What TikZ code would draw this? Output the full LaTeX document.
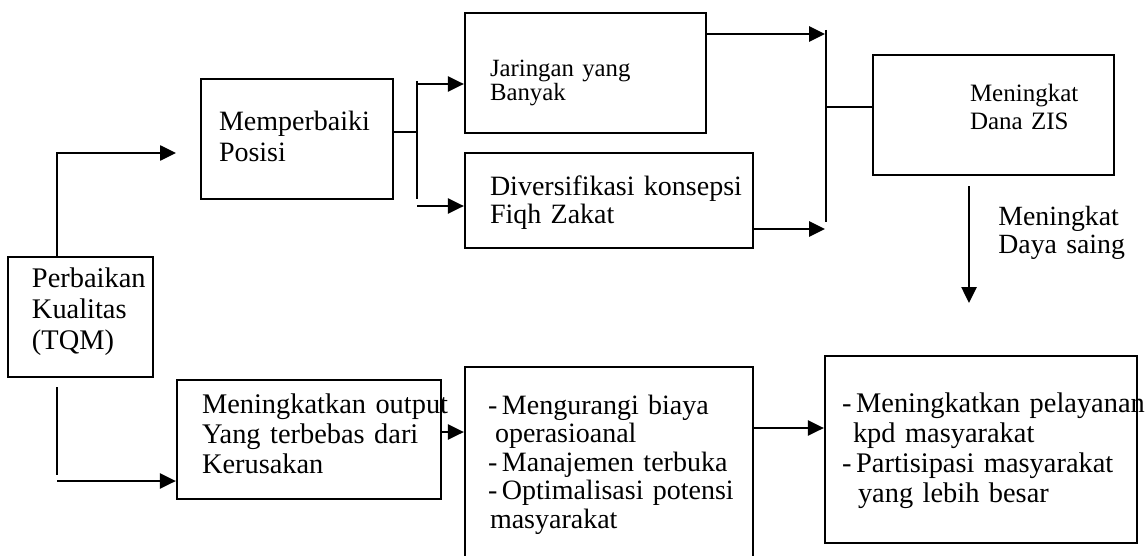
\documentclass[tikz,border=0pt]{standalone}
\usepackage{fontspec}
\setmainfont{Liberation Serif}
\usetikzlibrary{arrows.meta,calc}
\hyphenpenalty=10000
\exhyphenpenalty=10000

\tikzset{
  kotak/.style={draw, line width=1.1pt, rectangle, inner sep=0pt, align=left, text height=0pt},
  panah/.style={line width=1.3pt, -{Triangle[length=8pt,width=7.5pt]}},
  garis/.style={line width=1.3pt},
}

\begin{document}
\begin{tikzpicture}[x=0.5pt,y=-0.5pt]
  \useasboundingbox (0,0) rectangle (1145,556);

  % kotak
  \node[kotak, minimum width=72.5pt, minimum height=60pt, text width=48.5pt, text depth=30pt,
        font=\fontsize{14.2}{15.5}\selectfont] (kualitas) at (80.5,317) {Perbaikan\\Kualitas\\(TQM)};
  \node[kotak, minimum width=96pt, minimum height=60pt, text width=78pt, text depth=8pt,
        font=\fontsize{14}{15.5}\selectfont] (posisi) at (297,139) {Memperbaiki\\Posisi};
  \node[kotak, minimum width=120.5pt, minimum height=60pt, text width=95.5pt, text height=3pt, text depth=0pt,
        font=\fontsize{12.4}{12.5}\selectfont] (jaringan) at (585.5,73) {Jaringan~yang\\Banyak};
  \node[kotak, minimum width=144pt, minimum height=47.5pt, text width=119pt, text depth=5.5pt,
        font=\fontsize{14}{14}\selectfont] (fiqh) at (609,200.5) {Diversifikasi~konsepsi\\Fiqh~Zakat};
  \node[kotak, minimum width=120.5pt, minimum height=60pt, text width=23.5pt, text depth=13pt,
        font=\fontsize{12.5}{14}\selectfont] (dana) at (993.5,115) {Meningkat\\Dana~ZIS};
  \node[kotak, minimum width=132pt, minimum height=59.5pt, text width=107pt, text depth=26.5pt,
        font=\fontsize{14.2}{15}\selectfont] (output) at (309,439.5) {Meningkatkan~output\\Yang~terbebas~dari\\Kerusakan};
  % kotak tengah terpotong di bawah
  \node[kotak, minimum width=144pt, minimum height=96.5pt, text width=121pt, text depth=49.5pt,
        font=\fontsize{14}{14.25}\selectfont] (biaya) at (609,463.5)
        {-\,Mengurangi~biaya\\\hspace*{3.5pt}operasioanal\\-\,Manajemen~terbuka\\-\,Optimalisasi~potensi\\\hspace*{1pt}masyarakat};
  \node[kotak, minimum width=156pt, minimum height=93.5pt, text width=139pt, text depth=37.5pt,
        font=\fontsize{14.2}{15}\selectfont] (layanan) at (981,449.5)
        {-\,Meningkatkan~pelayanan\\\hspace*{5.5pt}kpd~masyarakat\\-\,Partisipasi~masyarakat\\\hspace*{8pt}yang~lebih~besar};

  % teks panah
  \node[anchor=north west, inner sep=0pt, text width=70pt, align=left, text height=0pt,
        font=\fontsize{13.9}{14}\selectfont] (dayasaing) at (998,225) {Meningkat\\Daya~saing};

  % titik bantu
  \coordinate (xkiri) at (57,0);
  \coordinate (ujungA) at (176,153);
  \coordinate (pangkalB) at (57,387);
  \coordinate (belokB) at (57,475);
  \coordinate (mulaiB) at (57,481);
  \coordinate (busA) at (417,81);
  \coordinate (busB) at (417,199);
  \coordinate (ykeluar) at (0,132);
  \coordinate (cabangA) at (417,84);
  \coordinate (cabangB) at (417,206);
  \coordinate (masukA) at (825,34);
  \coordinate (masukB) at (825,229);
  \coordinate (busC) at (826,30);
  \coordinate (busD) at (826,222);
  \coordinate (ydana) at (0,107);
  \coordinate (ujungC) at (969,303);
  \coordinate (youtput) at (0,432);
  \coordinate (ybiaya) at (0,428);

  % garis & panah
  \draw[panah] (kualitas.north -| xkiri) |- (ujungA);
  \draw[garis] (pangkalB) -- (belokB);
  \draw[panah] (mulaiB) -- (output.west |- mulaiB);

  \draw[garis] (posisi.east |- ykeluar) -- (busA |- ykeluar);
  \draw[garis] (busA) -- (busB);
  \draw[panah] (cabangA) -- (jaringan.west |- cabangA);
  \draw[panah] (cabangB) -- (fiqh.west |- cabangB);

  \draw[panah] (jaringan.east |- masukA) -- (masukA);
  \draw[panah] (fiqh.east |- masukB) -- (masukB);
  \draw[garis] (busC) -- (busD);
  \draw[garis] (busC |- ydana) -- (dana.west |- ydana);

  \draw[panah] ($(dana.south -| ujungC)+(0,10)$) -- (ujungC);

  \draw[panah] (output.east |- youtput) -- (biaya.west |- youtput);
  \draw[panah] (biaya.east |- ybiaya) -- (layanan.west |- ybiaya);
\end{tikzpicture}
\end{document}
